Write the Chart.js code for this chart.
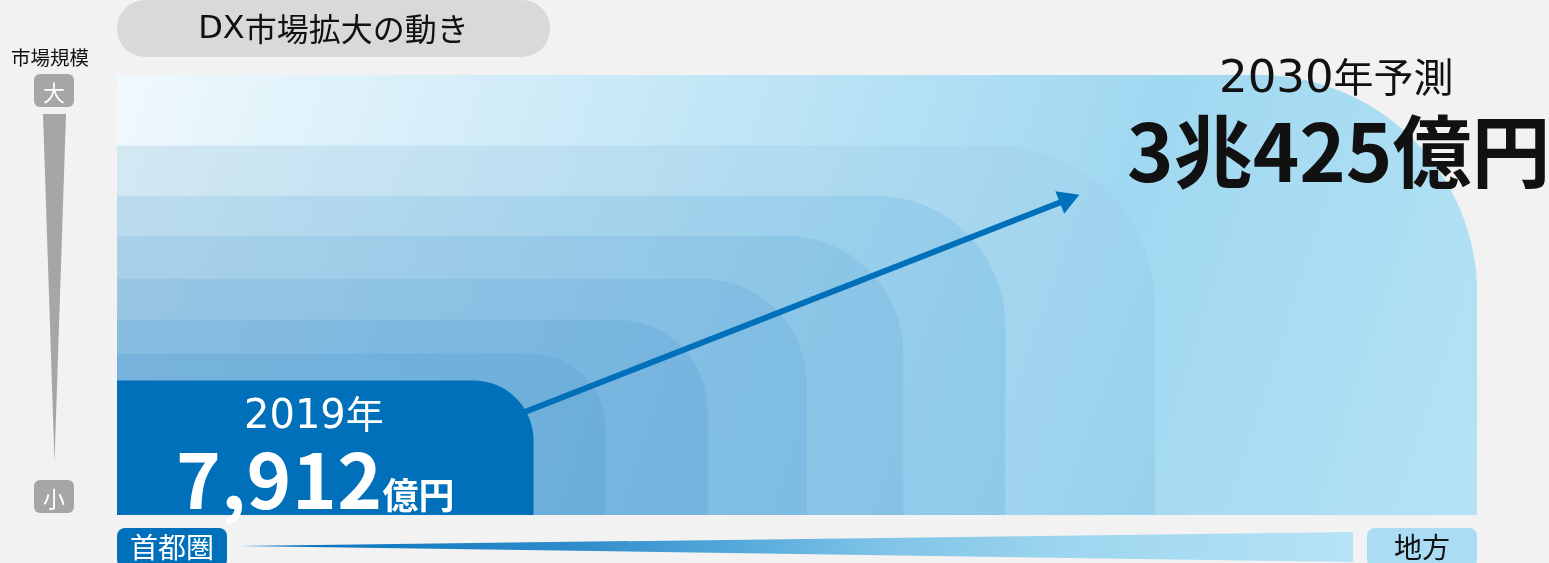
<!DOCTYPE html>
<html lang="ja">
<head>
<meta charset="utf-8">
<title>DX市場拡大の動き</title>
<script src="https://cdn.jsdelivr.net/npm/chart.js@4.4.0/dist/chart.umd.min.js"></script>
<style>
  html, body { margin: 0; padding: 0; background: #f2f2f2; }
  body { width: 1549px; height: 563px; position: relative; overflow: hidden;
         font-family: "DejaVu Sans", "Noto Sans CJK JP", sans-serif; }
  #chart { position: absolute; left: 0; top: 0; }
  .t { position: absolute; white-space: nowrap; line-height: 1; }
  .jp { font-family: "Noto Sans CJK JP", sans-serif; }
  .box { position: absolute; display: flex; align-items: center; justify-content: center; }
  #title { left: 117px; top: 0; width: 433px; height: 57px; border-radius: 28px;
           background: #d9d9d9; color: #111; font-size: 32px; padding-bottom: 3px; box-sizing: border-box; }
  .tag { background: #a6a6a6; color: #fff; border-radius: 6px; width: 40px; height: 33px; left: 34px; font-size: 22px; }
  #vwedge { position: absolute; left: 43px; top: 114px; width: 23px; height: 348px;
            background: #a6a6a6; clip-path: polygon(0 0, 100% 0, 50% 100%); }
  #hwedge { position: absolute; left: 240px; top: 532px; width: 1113px; height: 30px;
            background: linear-gradient(to right, #0070bb 0%, #2f8ccb 30%, #56aadb 45%, #80c4e7 58%, #9ed6ef 75%, #b6e3f5 100%);
            clip-path: polygon(0 14px, 100% 0, 100% 100%); }
  .area { top: 528px; height: 40px; width: 110px; border-radius: 8px; font-size: 28px; padding-bottom: 5px; box-sizing: border-box; }
</style>
</head>
<body>
<canvas id="chart" width="1549" height="563"></canvas>

<div id="title" class="box">DX<span class="jp">市場拡大の動き</span></div>
<div class="t jp" style="left:11px; top:47px; font-size:19.5px; color:#111;">市場規模</div>
<div class="box tag jp" style="top:74px;">大</div>
<div id="vwedge"></div>
<div class="box tag jp" style="top:480px;">小</div>
<div class="box area jp" style="left:117px; background:#0070bb; color:#fff;">首都圏</div>
<div id="hwedge"></div>
<div class="box area jp" style="left:1367px; background:#aadcf3; color:#111;">地方</div>

<div class="t" style="left:244px; top:393px; font-size:40px; color:#fff;">
  <span id="startYear"></span><span id="startYearUnit" class="jp" style="font-size:38px;"></span>
</div>
<div class="t jp" style="left:176px; top:438px; color:#fff; font-weight:bold;">
  <span id="startValue" style="font-size:76px; letter-spacing:0.5px;"></span><span id="startUnit" style="font-size:36px;"></span>
</div>
<div class="t" style="left:1219px; top:54px; font-size:45px; color:#111;">
  <span id="endYear"></span><span id="endYearUnit" class="jp" style="font-size:40px;"></span>
</div>
<div class="t jp" style="left:1127px; top:108px; font-size:79px; color:#111; font-weight:bold;">
  <span id="endA"></span><span id="endB"></span><span id="endC"></span><span id="endD"></span>
</div>

<script>
    // 段階ごとの広がり（首都圏→地方）と市場規模（小→大）、内側から外側へ
    const stages = ['2019年', '段階2', '段階3', '段階4', '段階5', '段階6', '段階7', '2030年予測'];
    const reachValues = [30.6, 35.9, 43.4, 50.7, 57.8, 65.3, 76.3, 100];
    const sizeValues = [30.5, 36.6, 44.3, 53.6, 63.4, 72.5, 83.9, 100];

    // 2019年から2030年への矢印
    const arrowX = [29.8, 69.8];
    const arrowY = [23.2, 71.6];

    // 表示テキスト
    const startLabels = ['2019', '年', '7,912', '億円'];
    const endLabels = ['2030', '年予測', '3', '兆', '425', '億円'];

    // 見た目（角丸と色）
    const cornerRadii = [60, 75, 90, 105, 118, 130, 160, 220];
    const colorsFrom = ['#0070bb', '#77b3dc', '#87bcdf', '#98c6e4', '#aad1e9', '#bcdcee', '#d3e8f3', '#f0f9fd'];
    const colorsTo   = ['#0070bb', '#6caedb', '#74b4e0', '#7dbce3', '#85c3e6', '#8dcaea', '#98d1ed', '#a0d8f1'];

    ['startYear', 'startYearUnit', 'startValue', 'startUnit'].forEach((id, i) => {
        document.getElementById(id).textContent = startLabels[i];
    });
    ['endYear', 'endYearUnit', 'endA', 'endB', 'endC', 'endD'].forEach((id, i) => {
        document.getElementById(id).textContent = endLabels[i];
    });

    // 各段階のグラデーション
    function layerColor(context) {
        const i = context.datasetIndex;
        const chart = context.chart;
        if (!chart.chartArea || colorsFrom[i] === colorsTo[i]) return colorsFrom[i];
        const xs = chart.scales.x, ys = chart.scales.y;
        const x0 = xs.getPixelForValue(0), x1 = xs.getPixelForValue(reachValues[i]);
        const y0 = ys.getPixelForValue(sizeValues[i]), y1 = ys.getPixelForValue(0);
        const g = chart.ctx.createLinearGradient(x0, y0, x1, y1);
        g.addColorStop(0, colorsFrom[i]);
        if (i === stages.length - 1) {
            g.addColorStop(0.7, colorsTo[i]);
            g.addColorStop(1, '#b4e2f4');
        } else {
            g.addColorStop(1, colorsTo[i]);
        }
        return g;
    }

    const datasets = stages.map((name, i) => ({
        type: 'bar',
        label: name,
        data: [{ x: reachValues[i] / 2, y: sizeValues[i] }],
        stack: 'layers',
        barThickness: 1,
        backgroundColor: layerColor,
        borderWidth: 0,
        borderSkipped: 'start',
        borderRadius: { topLeft: 0, topRight: cornerRadii[i], bottomLeft: 0, bottomRight: 0 },
        order: i
    }));

    datasets.push({
        type: 'line',
        label: 'arrow',
        data: arrowX.map((x, i) => ({ x: x, y: arrowY[i] })),
        borderColor: '#0070bb',
        backgroundColor: '#0070bb',
        borderWidth: 6,
        pointRadius: [0, 14],
        pointStyle: ['circle', 'triangle'],
        pointRotation: [0, 0],
        pointBorderWidth: 0,
        order: -1
    });

    const chart = new Chart(document.getElementById('chart').getContext('2d'), {
        data: { datasets: datasets },
        options: {
            responsive: false,
            animation: false,
            layout: { padding: { left: 117, top: 75, right: 72, bottom: 48 } },
            plugins: { legend: { display: false }, tooltip: { enabled: false } },
            scales: {
                x: { type: 'linear', min: 0, max: 100, offset: false, display: false },
                y: { type: 'linear', min: 0, max: 100, stacked: false, display: false }
            }
        }
    });

    // スケールから幅と矢印の向きを決めて再描画
    const xs = chart.scales.x, ys = chart.scales.y;
    stages.forEach((name, i) => {
        datasets[i].barThickness = xs.getPixelForValue(reachValues[i]) - xs.getPixelForValue(0);
    });
    const dx = xs.getPixelForValue(arrowX[1]) - xs.getPixelForValue(arrowX[0]);
    const dy = ys.getPixelForValue(arrowY[1]) - ys.getPixelForValue(arrowY[0]);
    datasets[stages.length].pointRotation = [0, Math.atan2(dx, -dy) * 180 / Math.PI];
    chart.update();
</script>
</body>
</html>
